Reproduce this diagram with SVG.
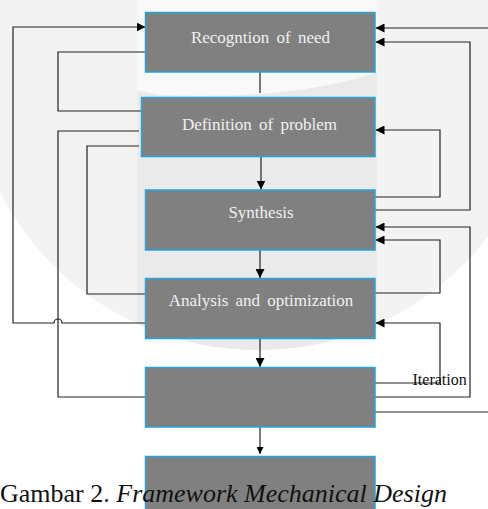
<svg xmlns="http://www.w3.org/2000/svg" width="488" height="509" viewBox="0 0 488 509">
<style>
.box{fill:#808080;stroke:#22a6df;stroke-width:1.5}
.lbl{font-family:"Liberation Serif","Times New Roman",serif;font-size:17px;fill:#f0f0f0;text-anchor:middle;word-spacing:3px}
.ln{fill:none;stroke:#222;stroke-width:1.2}
</style>
<defs>
<marker id="ah" markerUnits="userSpaceOnUse" markerWidth="9" markerHeight="9" refX="9" refY="4.5" orient="auto">
<path d="M0,0 L9,4.5 L0,9 z" fill="#000"/>
</marker>
<marker id="ahs" markerUnits="userSpaceOnUse" markerWidth="7" markerHeight="7" refX="7" refY="3.5" orient="auto">
<path d="M0,0 L7,3.5 L0,7 z" fill="#000"/>
</marker>
<clipPath id="circ"><circle cx="258" cy="60" r="290"/></clipPath>
</defs>
<g id="background">
<rect x="0" y="0" width="488" height="509" fill="#ffffff"/>
<circle cx="258" cy="60" r="290" fill="#f3f3f3"/>
<g clip-path="url(#circ)">
<rect x="137" y="0" width="240" height="360" fill="#eaeaea"/>
<path d="M137,0 H377 V72 Q300,100 160,95 L137,90 Z" fill="#ffffff" opacity="0.7"/>
</g>
</g>
<g id="connectors">
<path class="ln" d="M145,323 H62 a4,4 0 0 0 -8,0 H13 V27 H145.5" marker-end="url(#ah)"/>
<path class="ln" d="M145,52 H58 V111 H141"/>
<path class="ln" d="M139,131 H58 V397 H145"/>
<path class="ln" d="M139,146 H87 V294 H145"/>
<path class="ln" d="M375,412 H489 V28 H375.5" marker-end="url(#ah)"/>
<path class="ln" d="M375,210 H470 V42 H375.5" marker-end="url(#ah)"/>
<path class="ln" d="M375,197 H440 V130 H375.5" marker-end="url(#ah)"/>
<path class="ln" d="M375,397 H470 V227 H375.5" marker-end="url(#ah)"/>
<path class="ln" d="M375,293 H440 V240 H375.5" marker-end="url(#ah)"/>
<path class="ln" d="M375,383 H440 V323 H375.5" marker-end="url(#ah)"/>
<path class="ln" d="M260,72 V93"/>
<path class="ln" d="M261,157 V189.5" marker-end="url(#ah)"/>
<path class="ln" d="M260,250 V278" marker-end="url(#ah)"/>
<path class="ln" d="M260,338 V367" marker-end="url(#ah)"/>
<path class="ln" d="M260,427 V454" marker-end="url(#ahs)"/>
</g>
<g id="n1"><rect class="box" x="145.5" y="12.5" width="229.5" height="59.5"/><text class="lbl" x="260.5" y="43">Recogntion of need</text></g>
<g id="n2"><rect class="box" x="141.5" y="97.5" width="233.5" height="59"/><text class="lbl" x="259.5" y="129.5">Definition of problem</text></g>
<g id="n3"><rect class="box" x="145.5" y="190" width="229.5" height="60"/><text class="lbl" x="261" y="218">Synthesis</text></g>
<g id="n4"><rect class="box" x="145.5" y="278.5" width="229.5" height="60"/><text class="lbl" x="261" y="306">Analysis and optimization</text></g>
<g id="n5"><rect class="box" x="145.5" y="367.5" width="229.5" height="59.5"/></g>
<g id="n6"><rect class="box" x="145.5" y="456.5" width="229.5" height="60"/></g>
<text x="412.5" y="385" font-family="'Liberation Serif','Times New Roman',serif" font-size="16" fill="#111">Iteration</text>
<text x="0" y="502" font-family="'Liberation Serif','Times New Roman',serif" font-size="26" fill="#111" xml:space="preserve">Gambar 2. <tspan font-style="italic">Framework Mechanical Design</tspan></text>
</svg>
